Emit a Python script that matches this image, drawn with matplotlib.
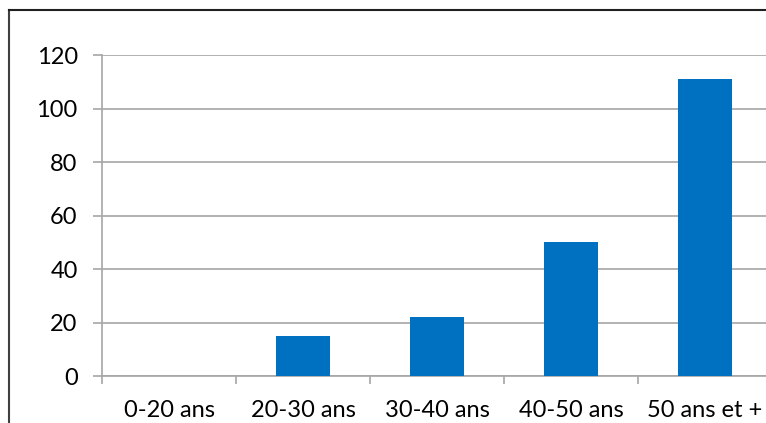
import matplotlib
matplotlib.use("Agg")
import matplotlib.pyplot as plt
from matplotlib.lines import Line2D
import numpy as np

### data
categories = ["0-20 ans", "20-30 ans", "30-40 ans", "40-50 ans", "50 ans et +"]
values = [0, 15, 22, 50, 111]
yticks = [0, 20, 40, 60, 80, 100, 120]

W, H = 766, 423
fig = plt.figure(figsize=(W / 100, H / 100), dpi=100)
plt.rcParams['font.family'] = ['Lato', 'DejaVu Sans']
FS = 17

### axes box in pixel terms: x from 102 to 772 (runs past the edge), y from 55 to 376
ax = fig.add_axes([102 / W, (H - 376) / H, (772 - 102) / W, (376 - 55) / H])

x = np.arange(len(categories))
ax.bar(x, values, width=0.4, color="#0070C0", zorder=3)

ax.set_xlim(-0.5, len(categories) - 0.5)
ax.set_ylim(0, 120)
ax.set_yticks(yticks)
ax.set_yticklabels([str(v) for v in yticks], fontsize=FS)
ax.yaxis.grid(True, color="#A6A6A6", linewidth=1.2, zorder=0)

### major ticks on category boundaries, labels on minor ticks
ax.set_xticks(np.arange(len(categories) + 1) - 0.5)
ax.set_xticklabels([])
ax.set_xticks(x, minor=True)
ax.set_xticklabels(categories, minor=True, fontsize=FS)
ax.tick_params(axis="x", which="major", length=6, width=1.2, color="#A6A6A6", direction="out")
ax.tick_params(axis="x", which="minor", length=0, pad=17)
ax.tick_params(axis="y", length=6.5, width=1.2, color="#A6A6A6", pad=11)

for s in ["top", "right"]:
    ax.spines[s].set_visible(False)
for s in ["left", "bottom"]:
    ax.spines[s].set_color("#A6A6A6")
    ax.spines[s].set_linewidth(1.2)

### outer border of the chart area (left and top only, the rest is cut off)
fig.add_artist(Line2D([9 / W, 9 / W], [0, 1 - 10 / H], color="#404040", lw=1.5, transform=fig.transFigure))
fig.add_artist(Line2D([9 / W, 1], [1 - 10 / H, 1 - 10 / H], color="#202020", lw=1.5, transform=fig.transFigure))

fig.savefig("out.png", dpi=100)
